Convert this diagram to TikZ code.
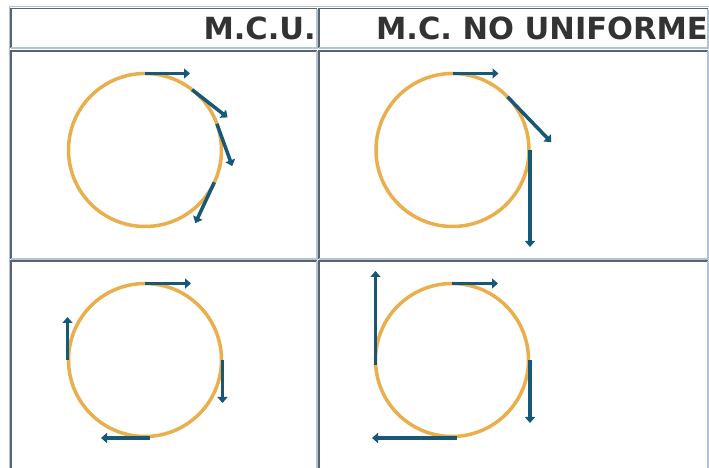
\documentclass[tikz,border=0pt]{standalone}
\usepackage{fontspec}
\setmainfont{DejaVu Sans}
\usetikzlibrary{arrows.meta, calc}
\definecolor{lightrule}{HTML}{AFC3D9}
\definecolor{darkrule}{HTML}{5A636C}
\definecolor{ringorange}{HTML}{E8AF4C}
\definecolor{vecblue}{HTML}{175879}
\definecolor{headgray}{HTML}{333333}

\begin{document}
\begin{tikzpicture}[x=1bp, y=1bp,
          lite/.style = {draw=lightrule, line width=1.6bp},
          dark/.style = {draw=darkrule, line width=1.6bp},
          head/.style = {anchor=base east, inner sep=0pt, text=headgray,
                         font=\fontsize{30.5bp}{36bp}\selectfont\bfseries},
          ring/.style = {draw=ringorange, line width=3.5bp},
          vec/.style  = {draw=vecblue, line width=3.5bp,
                         -{Triangle[length=6bp, width=10bp]}}]
        \fill[white] (0,0) rectangle (709,468);
        \useasboundingbox (0,0) rectangle (709,468);
        % table frame and cells
        \draw[lite] (9.3,-5) -- (9.3,461.3) -- (715,461.3);
        \foreach \xa/\xb in {10.7/317, 319/708}
          \foreach \ya/\yb in {420.2/459.3, 209/417.2, -5/207} {
            \draw[dark] (\xa,\ya) |- (\xb,\yb);
            \draw[lite] (\xa,\ya) -| (\xb,\yb);
          }
        \node[head] (mcu)  at (316,428) {M.C.U.};
        \node[head] (mcnu) at (708,428) {M.C. NO UNIFORME};
        % circles
        \coordinate (uA) at (145,318);
        \coordinate (nA) at (452.5,318);
        \coordinate (uB) at (145,108);
        \coordinate (nB) at (452,108);
        \foreach \c in {uA,nA,uB,nB}
          \draw[ring] (\c) circle (76.5);
        % M.C.U., top
        \draw[vec] ($(uA)+(90:76.5)$)  -- ++(0:45);
        \draw[vec] ($(uA)+(52:76.5)$)  -- ++(-38:45);
        \draw[vec] ($(uA)+(20:76.5)$)  -- ++(-70:45);
        \draw[vec] ($(uA)+(-25:76.5)$) -- ++(-115:45);
        % M.C. no uniforme, top
        \draw[vec] ($(nA)+(90:76.5)$)  -- ++(0:46);
        \draw[vec] ($(nA)+(44:76.5)$)  -- ++(-46:63);
        \draw[vec] ($(nA)+(0:77.5)$)   -- ++(-90:97);
        % M.C.U., bottom
        \draw[vec] ($(uB)+(90:76.5)$)  -- ++(0:46);
        \draw[vec] ($(uB)+(0:77.5)$)   -- ++(-90:43);
        \draw[vec] ($(uB)+(5,-78)$)    -- ++(180:49);
        \draw[vec] ($(uB)+(180:77.5)$) -- ++(90:43);
        % M.C. no uniforme, bottom
        \draw[vec] ($(nB)+(90:76.5)$)  -- ++(0:46);
        \draw[vec] ($(nB)+(0:78)$)     -- ++(-90:63);
        \draw[vec] ($(nB)+(5,-78)$)    -- ++(180:85);
        \draw[vec] ($(nB)+(-76.5,-5)$) -- ++(90:94);
      \end{tikzpicture}
\end{document}
